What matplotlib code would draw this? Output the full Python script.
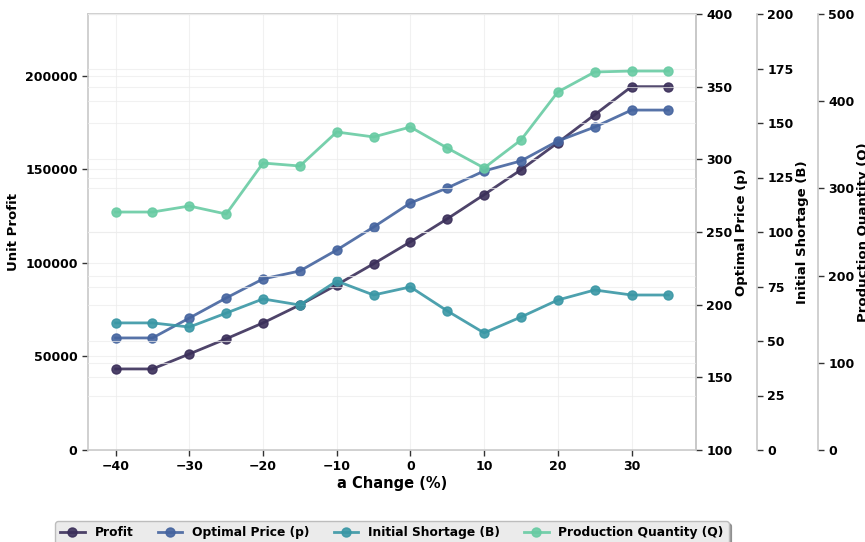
import matplotlib
matplotlib.use("Agg")
import matplotlib.pyplot as plt

# Sensitivity of the model outputs to a percentage change in parameter a
a_change = [-40, -35, -30, -25, -20, -15, -10, -5, 0, 5, 10, 15, 20, 25, 30, 35]
profit = [43300, 43300, 51300, 59400, 67900, 77500, 88200, 99500, 111200,
          123500, 136400, 149700, 164200, 179100, 194100, 194100]
optimal_price = [177.1, 177.1, 190.8, 204.6, 217.7, 223.2, 237.6, 253.4, 270.0,
                 280.3, 292.0, 298.9, 312.6, 322.2, 333.9, 333.9]
initial_shortage = [58.3, 58.3, 56.4, 62.8, 69.3, 66.5, 77.5, 71.1, 74.8,
                    63.8, 53.7, 61.0, 68.8, 73.4, 71.1, 71.1]
production_qty = [272.9, 272.9, 279.8, 270.6, 329.1, 325.7, 364.7, 359.0, 370.4,
                  346.3, 323.4, 355.5, 410.6, 433.5, 434.6, 434.6]

colors = ["#3b2f5a", "#45649f", "#3a97a5", "#68cba3"]

plt.rcParams["font.family"] = "DejaVu Sans"
plt.rcParams["font.weight"] = "bold"

fig = plt.figure(figsize=(8.65, 5.42), dpi=100)
ax = fig.add_axes([88 / 865, 1 - 450 / 542, (696 - 88) / 865, (450 - 14) / 542])
ax_p = ax.twinx()
ax_b = ax.twinx()
ax_q = ax.twinx()
ax_b.spines["right"].set_position(("axes", 1 + 61 / 608))
ax_q.spines["right"].set_position(("axes", 1 + 122 / 608))

line_kw = dict(marker="o", markersize=6.5, linewidth=2, alpha=0.9)
l1, = ax.plot(a_change, profit, color=colors[0], label="Profit", **line_kw)
l2, = ax_p.plot(a_change, optimal_price, color=colors[1], label="Optimal Price (p)", **line_kw)
l3, = ax_b.plot(a_change, initial_shortage, color=colors[2], label="Initial Shortage (B)", **line_kw)
l4, = ax_q.plot(a_change, production_qty, color=colors[3], label="Production Quantity (Q)", **line_kw)

ax.set_ylim(0, max(profit) * 1.2)
ax_p.set_ylim(100, 400)
ax_b.set_ylim(0, 200)
ax_q.set_ylim(0, 500)
ax.set_xticks([-40, -30, -20, -10, 0, 10, 20, 30])
ax.set_yticks([0, 50000, 100000, 150000, 200000])
ax_p.set_yticks([100, 150, 200, 250, 300, 350, 400])
ax_b.set_yticks([0, 25, 50, 75, 100, 125, 150, 175, 200])
ax_q.set_yticks([0, 100, 200, 300, 400, 500])

grid_color = "#ececec"
for a in (ax, ax_p, ax_b, ax_q):
    a.grid(True, color=grid_color, linewidth=0.8, alpha=0.7)
    a.set_axisbelow(True)
    for s in a.spines.values():
        s.set_color("#c8c8c8")
        s.set_linewidth(1.2)
    a.tick_params(labelsize=9, length=4, width=1, color="#333333")
    for lab in a.get_yticklabels() + a.get_xticklabels():
        lab.set_fontweight("bold")
ax.grid(True, axis="x", color=grid_color, linewidth=0.8)
for a in (ax_p, ax_b, ax_q):
    a.grid(False, axis="x")
    a.spines["left"].set_visible(False)
    a.spines["top"].set_visible(False)
    a.spines["bottom"].set_visible(False)

ax.set_xlabel("a Change (%)", fontsize=10.5, fontweight="bold", labelpad=2)
ax.set_ylabel("Unit Profit", fontsize=9.5, fontweight="bold")
ax_p.set_ylabel("Optimal Price (p)", fontsize=9.5, fontweight="bold", labelpad=2)
ax_b.set_ylabel("Initial Shortage (B)", fontsize=9.5, fontweight="bold", labelpad=2)
ax_q.set_ylabel("Production Quantity (Q)", fontsize=9.5, fontweight="bold", labelpad=2)

leg = ax.legend(handles=[l1, l2, l3, l4], loc="upper center",
                bbox_to_anchor=(0.5, -0.163), borderaxespad=0, ncol=4,
                frameon=True, shadow=True,
                prop={"weight": "bold", "size": 8.8},
                columnspacing=2.0, handlelength=2.0)
leg.get_frame().set_facecolor("#ebebeb")
leg.get_frame().set_edgecolor("#bdbdbd")

fig.savefig("out.png", dpi=100)
